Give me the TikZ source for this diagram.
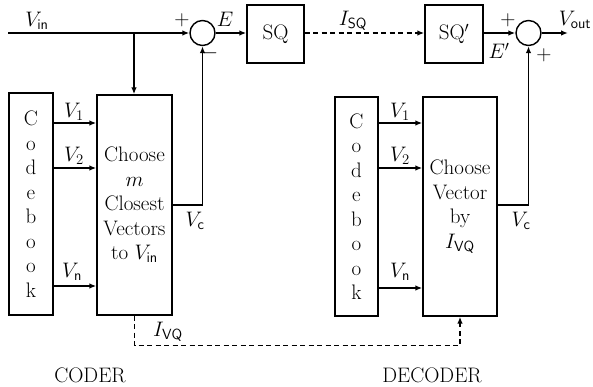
\RequirePackage{fix-cm}
\documentclass[tikz,border=0pt]{standalone}
\usepackage{fontspec}
\usetikzlibrary{arrows.meta}
\begin{document}
\begin{tikzpicture}[x=1pt,y=-1pt,
  every node/.style={font=\fontsize{21}{24.5}\selectfont},
  box/.style={draw,line width=1.4pt,rectangle,inner sep=0pt,align=center},
  sumnode/.style={draw,line width=1.4pt,circle,minimum size=25pt,inner sep=0pt},
  arr/.style={line width=1.4pt,-{Latex[length=7pt,width=5.5pt]}},
  dsh/.style={dash pattern=on 5pt off 3.5pt},
  lbl/.style={inner sep=0pt}]
\useasboundingbox (0,0) rectangle (593,387);
% coder
\node[box,minimum width=44pt,minimum height=222pt] (cb1) at (31,204) {C\\o\\d\\e\\b\\o\\o\\k};
\node[box,minimum width=75pt,minimum height=220pt] (ch1) at (134.5,205) {Choose\\$m$\\Closest\\Vectors\\to $V_{\mathsf{in}}$};
\node[sumnode] (s1) at (202.5,33) {};
\node[box,minimum width=57pt,minimum height=58pt] (sq) at (275.5,34) {SQ};
% decoder
\node[box,minimum width=58pt,minimum height=58pt] (sq2) at (454,34) {SQ$'$};
\node[sumnode] (s2) at (528.5,33) {};
\node[box,minimum width=43pt,minimum height=219pt] (cb2) at (356.5,206.5) {C\\o\\d\\e\\b\\o\\o\\k};
\node[box,minimum width=74pt,minimum height=219pt] (ch2) at (460,206.5) {Choose\\Vector\\by\\$I_{\mathsf{VQ}}$};
% coordinates
\coordinate (vin) at (8,33);
\coordinate (br) at (134,33);
\coordinate (vout) at (568,33);
% connectors coder
\draw[arr] (vin) -- (s1.west);
\draw[arr] (br) -- (br |- ch1.north);
\draw[arr] (cb1.east |- 0,123) -- (ch1.west |- 0,123);
\draw[arr] (cb1.east |- 0,168) -- (ch1.west |- 0,168);
\draw[arr] (cb1.east |- 0,286) -- (ch1.west |- 0,286);
\draw[arr] (ch1.east |- 0,205) -| (s1.south);
\draw[arr] (s1.east) -- (s1.east -| sq.west);
% transmission
\draw[arr,dsh] (sq.east |- s1.east) -- (sq2.west |- s1.east);
\draw[arr,dsh] (ch1.south) -- ++(0,30) -| (ch2.south);
% connectors decoder
\draw[arr] (sq2.east |- s2.west) -- (s2.west);
\draw[arr] (s2.east) -- (vout);
\draw[arr] (cb2.east |- 0,123) -- (ch2.west |- 0,123);
\draw[arr] (cb2.east |- 0,168) -- (ch2.west |- 0,168);
\draw[arr] (cb2.east |- 0,288) -- (ch2.west |- 0,288);
\draw[arr] (ch2.east |- 0,205) -| (s2.south);
% labels
\node[lbl] (lvin) at (37,21) {$V_{\mathsf{in}}$};
\node[lbl] (lp1) at (182,20) {$+$};
\node[lbl] (lm1) at (210,53) {$-$};
\node[lbl] (lE) at (225,19) {$E$};
\node[lbl] (lisq) at (353,21) {$I_{\mathsf{SQ}}$};
\node[lbl] (lp2) at (508,20) {$+$};
\node[lbl] (lE2) at (499,51) {$E'$};
\node[lbl] (lp3) at (544,55) {$+$};
\node[lbl] (lvout) at (575,20) {$V_{\mathsf{out}}$};
\node[lbl] (lv1a) at (74,112) {$V_1$};
\node[lbl] (lv2a) at (74,156) {$V_2$};
\node[lbl] (lvna) at (72,272) {$V_{\mathsf{n}}$};
\node[lbl] (lvca) at (195,221) {$V_{\mathsf{c}}$};
\node[lbl] (livq) at (168,332) {$I_{\mathsf{VQ}}$};
\node[lbl] (lv1b) at (400,112) {$V_1$};
\node[lbl] (lv2b) at (400,156) {$V_2$};
\node[lbl] (lvnb) at (400,272) {$V_{\mathsf{n}}$};
\node[lbl] (lvcb) at (521,221) {$V_{\mathsf{c}}$};
\node[lbl] (coder) at (90,375) {CODER};
\node[lbl] (decoder) at (432,375) {DECODER};
\end{tikzpicture}
\end{document}
